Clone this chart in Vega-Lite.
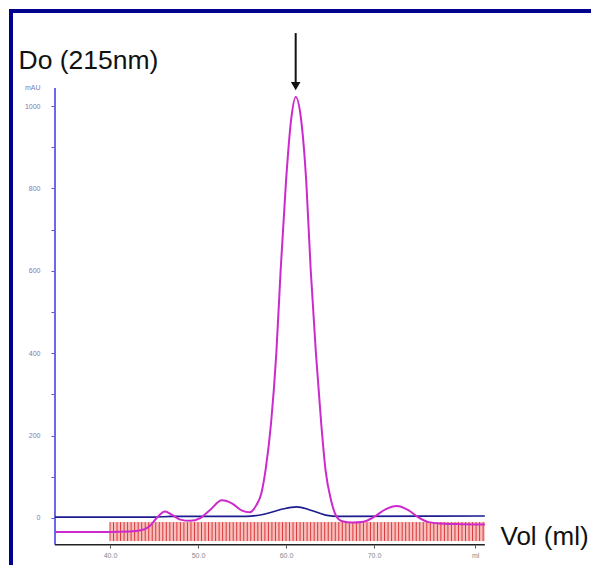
{
  "$schema": "https://vega.github.io/schema/vega-lite/v6.json",
  "autosize": "none",
  "padding": {"left": 11, "top": 11, "right": 0, "bottom": 0},
  "width": 583,
  "height": 557,
  "background": "white",
  "config": {
    "font": "Liberation Sans",
    "view": {"stroke": "#00008f", "strokeWidth": 4}
  },
  "datasets": {
    "uv": [
      {"x": 33.75, "y": -34}, {"x": 36, "y": -34}, {"x": 40, "y": -34}, {"x": 42.3, "y": -33},
      {"x": 43.5, "y": -30}, {"x": 44.5, "y": -20}, {"x": 45.3, "y": 0}, {"x": 46.25, "y": 16},
      {"x": 47.0, "y": 8}, {"x": 48.0, "y": -4}, {"x": 49.1, "y": -7}, {"x": 50.2, "y": -1},
      {"x": 51.4, "y": 20}, {"x": 52.7, "y": 43}, {"x": 53.9, "y": 35}, {"x": 55.0, "y": 18},
      {"x": 55.9, "y": 14}, {"x": 56.6, "y": 30}, {"x": 57.2, "y": 60}, {"x": 57.7, "y": 120},
      {"x": 58.3, "y": 230}, {"x": 58.9, "y": 400}, {"x": 59.4, "y": 605}, {"x": 60.0, "y": 817},
      {"x": 60.6, "y": 970}, {"x": 61.1, "y": 1022}, {"x": 61.7, "y": 970}, {"x": 62.3, "y": 817},
      {"x": 62.8, "y": 605}, {"x": 63.4, "y": 400}, {"x": 64.0, "y": 230}, {"x": 64.5, "y": 115},
      {"x": 65.1, "y": 45}, {"x": 65.7, "y": 5}, {"x": 66.4, "y": -8}, {"x": 67.5, "y": -11},
      {"x": 68.8, "y": -9}, {"x": 70.1, "y": 4}, {"x": 71.3, "y": 21}, {"x": 72.6, "y": 29},
      {"x": 73.9, "y": 19}, {"x": 75.0, "y": 2}, {"x": 76.2, "y": -10}, {"x": 78.0, "y": -14},
      {"x": 80.0, "y": -15}, {"x": 82.6, "y": -16}
    ],
    "cond": [
      {"x": 33.75, "y": 2}, {"x": 45, "y": 2}, {"x": 47, "y": 4}, {"x": 55.5, "y": 4},
      {"x": 57.5, "y": 9}, {"x": 59.5, "y": 21}, {"x": 61.2, "y": 27}, {"x": 62.8, "y": 19},
      {"x": 64.5, "y": 7}, {"x": 66, "y": 4}, {"x": 82.6, "y": 5}
    ],
    "frac": [
      {"x": 40.0}, {"x": 40.4}, {"x": 40.8}, {"x": 41.2}, {"x": 41.6}, {"x": 42.0}, {"x": 42.4}, {"x": 42.8},
      {"x": 43.2}, {"x": 43.6}, {"x": 44.0}, {"x": 44.4}, {"x": 44.8}, {"x": 45.2}, {"x": 45.6}, {"x": 46.0},
      {"x": 46.4}, {"x": 46.8}, {"x": 47.2}, {"x": 47.6}, {"x": 48.0}, {"x": 48.4}, {"x": 48.8}, {"x": 49.2},
      {"x": 49.6}, {"x": 50.0}, {"x": 50.4}, {"x": 50.8}, {"x": 51.2}, {"x": 51.6}, {"x": 52.0}, {"x": 52.4},
      {"x": 52.8}, {"x": 53.2}, {"x": 53.6}, {"x": 54.0}, {"x": 54.4}, {"x": 54.8}, {"x": 55.2}, {"x": 55.6},
      {"x": 56.0}, {"x": 56.4}, {"x": 56.8}, {"x": 57.2}, {"x": 57.6}, {"x": 58.0}, {"x": 58.4}, {"x": 58.8},
      {"x": 59.2}, {"x": 59.6}, {"x": 60.0}, {"x": 60.4}, {"x": 60.8}, {"x": 61.2}, {"x": 61.6}, {"x": 62.0},
      {"x": 62.4}, {"x": 62.8}, {"x": 63.2}, {"x": 63.6}, {"x": 64.0}, {"x": 64.4}, {"x": 64.8}, {"x": 65.2},
      {"x": 65.6}, {"x": 66.0}, {"x": 66.4}, {"x": 66.8}, {"x": 67.2}, {"x": 67.6}, {"x": 68.0}, {"x": 68.4},
      {"x": 68.8}, {"x": 69.2}, {"x": 69.6}, {"x": 70.0}, {"x": 70.4}, {"x": 70.8}, {"x": 71.2}, {"x": 71.6},
      {"x": 72.0}, {"x": 72.4}, {"x": 72.8}, {"x": 73.2}, {"x": 73.6}, {"x": 74.0}, {"x": 74.4}, {"x": 74.8},
      {"x": 75.2}, {"x": 75.6}, {"x": 76.0}, {"x": 76.4}, {"x": 76.8}, {"x": 77.2}, {"x": 77.6}, {"x": 78.0},
      {"x": 78.4}, {"x": 78.8}, {"x": 79.2}, {"x": 79.6}, {"x": 80.0}, {"x": 80.4}, {"x": 80.8}, {"x": 81.2},
      {"x": 81.6}, {"x": 82.0}, {"x": 82.4}
    ]
  },
  "layer": [
    {
      "data": {"values": [{}]},
      "mark": {"type": "rect", "color": "#f8b4b0", "opacity": 0.85},
      "encoding": {
        "x": {"datum": 40, "type": "quantitative", "scale": {"domain": [28.75, 95.0], "nice": false, "zero": false}},
        "x2": {"datum": 82.6},
        "y": {"datum": -10, "type": "quantitative", "scale": {"domain": [-121.4, 1230.6], "nice": false, "zero": false}},
        "y2": {"datum": -56}
      }
    },
    {
      "data": {"name": "frac"},
      "mark": {"type": "rule", "color": "#d8383a", "strokeWidth": 1},
      "encoding": {
        "x": {"field": "x", "type": "quantitative", "scale": {"domain": [28.75, 95.0], "nice": false, "zero": false}},
        "y": {"datum": -10, "type": "quantitative", "scale": {"domain": [-121.4, 1230.6], "nice": false, "zero": false}},
        "y2": {"datum": -56}
      }
    },
    {
      "data": {"values": [{}]},
      "mark": {"type": "rule", "color": "#6a6ae6", "strokeWidth": 2},
      "encoding": {
        "x": {"datum": 33.75, "type": "quantitative", "scale": {"domain": [28.75, 95.0], "nice": false, "zero": false}},
        "y": {"datum": -65, "type": "quantitative", "scale": {"domain": [-121.4, 1230.6], "nice": false, "zero": false}},
        "y2": {"datum": 1044}
      }
    },
    {
      "data": {"values": [{}]},
      "mark": {"type": "rule", "color": "#222222", "strokeWidth": 1.5},
      "encoding": {
        "x": {"datum": 33.75, "type": "quantitative", "scale": {"domain": [28.75, 95.0], "nice": false, "zero": false}},
        "x2": {"datum": 82.6},
        "y": {"datum": -65, "type": "quantitative", "scale": {"domain": [-121.4, 1230.6], "nice": false, "zero": false}}
      }
    },
    {
      "data": {"name": "cond"},
      "mark": {"type": "line", "color": "#1c1c8f", "strokeWidth": 1.6, "interpolate": "monotone"},
      "encoding": {
        "x": {"field": "x", "type": "quantitative", "scale": {"domain": [28.75, 95.0], "nice": false, "zero": false}},
        "y": {"field": "y", "type": "quantitative", "scale": {"domain": [-121.4, 1230.6], "nice": false, "zero": false}}
      }
    },
    {
      "data": {"name": "uv"},
      "mark": {"type": "line", "color": "#cc2acc", "strokeWidth": 2, "interpolate": "monotone"},
      "encoding": {
        "x": {
          "field": "x", "type": "quantitative",
          "scale": {"domain": [28.75, 95.0], "nice": false, "zero": false},
          "axis": {
            "offset": -23, "domain": false, "grid": false,
            "values": [40, 50, 60, 70, 81.5],
            "labelExpr": "datum.value > 80 ? 'ml' : format(datum.value, '.1f')",
            "labelFontSize": 7, "labelColor": "#888888", "labelPadding": 3,
            "tickSize": 3, "tickColor": "#555555",
            "title": "Vol (ml)", "titleFontSize": 26, "titleFontWeight": "normal", "titleColor": "#111111",
            "titleAnchor": "start", "titleAlign": "left", "titleBaseline": "middle", "titleAngle": 0,
            "titleX": 489, "titleY": -9
          }
        },
        "y": {
          "field": "y", "type": "quantitative",
          "scale": {"domain": [-121.4, 1230.6], "nice": false, "zero": false},
          "axis": {
            "offset": -44, "domain": false, "grid": false,
            "values": [0, 100, 200, 300, 400, 500, 600, 700, 800, 900, 1000, 1046],
            "labelExpr": "datum.value > 1010 ? 'mAU' : (datum.value % 200 == 0 ? datum.value : '')",
            "labelFontSize": 7, "labelColor": "#7a7ab8", "labelPadding": 11,
            "tickSize": 4, "tickColor": "#5555cc",
            "tickOpacity": {"condition": {"test": "datum.value > 1010", "value": 0}, "value": 1},
            "title": "Do (215nm)", "titleFontSize": 26.5, "titleFontWeight": "normal", "titleColor": "#111111",
            "titleAngle": 0, "titleAlign": "left", "titleBaseline": "alphabetic",
            "titleX": -37, "titleY": 57
          }
        }
      }
    },
    {
      "data": {"values": [{}]},
      "mark": {"type": "rule", "color": "#111111", "strokeWidth": 2},
      "encoding": {
        "x": {"datum": 61.1, "type": "quantitative", "scale": {"domain": [28.75, 95.0], "nice": false, "zero": false}},
        "y": {"datum": 1177, "type": "quantitative", "scale": {"domain": [-121.4, 1230.6], "nice": false, "zero": false}},
        "y2": {"datum": 1052}
      }
    },
    {
      "data": {"values": [{}]},
      "mark": {"type": "point", "shape": "triangle-down", "filled": true, "color": "#111111", "size": 90, "opacity": 1},
      "encoding": {
        "x": {"datum": 61.1, "type": "quantitative", "scale": {"domain": [28.75, 95.0], "nice": false, "zero": false}},
        "y": {"datum": 1048, "type": "quantitative", "scale": {"domain": [-121.4, 1230.6], "nice": false, "zero": false}}
      }
    }
  ]
}
